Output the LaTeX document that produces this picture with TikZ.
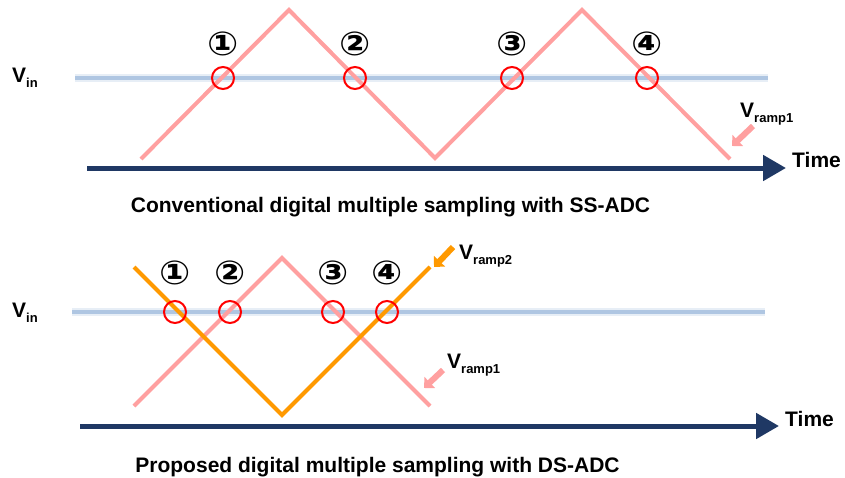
\documentclass[tikz,border=0pt]{standalone}
\usepackage{fontspec}
\setmainfont{Liberation Sans}
\newfontfamily\circfont{DejaVu Sans}
\usetikzlibrary{arrows.meta}
\definecolor{ramppink}{RGB}{255,160,160}
\definecolor{ramporange}{RGB}{255,153,0}
\definecolor{vinblue}{RGB}{175,198,226}
\definecolor{navy}{RGB}{31,56,100}
\definecolor{redmark}{RGB}{255,0,0}
\newcommand{\subtxt}[1]{\raisebox{-5pt}{\fontsize{13}{13}\selectfont #1}}
\tikzset{
  rampone/.style={draw=ramppink,line width=4pt,line join=miter},
  ramptwo/.style={draw=ramporange,line width=4pt,line join=miter},
  vinglow/.style={draw=vinblue,line width=8pt,opacity=0.3},
  vinline/.style={draw=vinblue,line width=4pt},
  timeaxis/.style={draw=navy,line width=5pt,-{Triangle[width=25pt,length=23pt]}},
  markc/.style={circle,draw=redmark,line width=2pt,minimum size=22pt,inner sep=0pt},
  numlbl/.style={font=\circfont\bfseries\fontsize{33}{33}\selectfont,inner sep=0pt,xscale=1.12},
  lbl/.style={font=\bfseries\fontsize{21}{24}\selectfont,inner sep=0pt,anchor=base west},
  captext/.style={font=\bfseries\fontsize{21}{24}\selectfont,inner sep=0pt,anchor=base},
  ptrpink/.style={draw=ramppink,line width=6pt,-{Triangle[width=15pt,length=8pt]}},
  ptrorange/.style={draw=ramporange,line width=6pt,-{Triangle[width=15pt,length=8pt]}},
}
\begin{document}
\begin{tikzpicture}[x=1pt,y=-1pt]
\useasboundingbox (0,0) rectangle (845,477);
% ===== top panel =====
\node[lbl] (vina) at (12,82) {V\subtxt{in}};
\coordinate (va1) at (75,78); \coordinate (va2) at (768,78);
\draw[vinglow] (va1) -- (va2);
\draw[vinline] (va1) -- (va2);
\coordinate (ta1) at (87,168); \coordinate (ta2) at (786,168);
\draw[timeaxis] (ta1) -- (ta2);
\node[lbl] (timea) at (792,167) {Time};
\coordinate (ra0) at (141,159); \coordinate (ra1) at (289,10); \coordinate (ra2) at (435,158);
\coordinate (ra3) at (582,10); \coordinate (ra4) at (730,159);
\draw[rampone] (ra0) -- (ra1) -- (ra2) -- (ra3) -- (ra4);
\foreach \x/\n [count=\i] in {223/①,355/②,512/③,647/④}{
  \node[markc] (ca\i) at (\x,78) {};
  \node[numlbl] (na\i) at (\x,44) {\n};
}
\node[lbl] (vr1a) at (740,117) {V\subtxt{ramp1}};
\coordinate (pa1) at (753,126); \coordinate (pa2) at (732,146);
\draw[ptrpink] (pa1) -- (pa2);
\node[captext] (capa) at (390.5,212) {Conventional digital multiple sampling with SS-ADC};
% ===== bottom panel =====
\node[lbl] (vinb) at (12,317) {V\subtxt{in}};
\coordinate (vb1) at (72,312); \coordinate (vb2) at (765,312);
\draw[vinglow] (vb1) -- (vb2);
\draw[vinline] (vb1) -- (vb2);
\coordinate (tb1) at (80,426); \coordinate (tb2) at (779,426);
\draw[timeaxis] (tb1) -- (tb2);
\node[lbl] (timeb) at (785,426) {Time};
\coordinate (rb0) at (134,406); \coordinate (rb1) at (282,258); \coordinate (rb2) at (430,406);
\draw[rampone] (rb0) -- (rb1) -- (rb2);
\coordinate (ob0) at (134,267); \coordinate (ob1) at (282,415); \coordinate (ob2) at (430,267);
\draw[ramptwo] (ob0) -- (ob1) -- (ob2);
\foreach \x/\n [count=\i] in {175/①,230/②,333/③,387/④}{
  \node[markc] (cb\i) at (\x,312) {};
  \node[numlbl] (nb\i) at (\x,273) {\n};
}
\node[lbl] (vr2b) at (459,259) {V\subtxt{ramp2}};
\coordinate (qb1) at (453,247); \coordinate (qb2) at (434,267);
\draw[ptrorange] (qb1) -- (qb2);
\node[lbl] (vr1b) at (447,368) {V\subtxt{ramp1}};
\coordinate (pb1) at (443,370); \coordinate (pb2) at (424,388);
\draw[ptrpink] (pb1) -- (pb2);
\node[captext] (capb) at (377.5,472) {Proposed digital multiple sampling with DS-ADC};
\end{tikzpicture}
\end{document}
